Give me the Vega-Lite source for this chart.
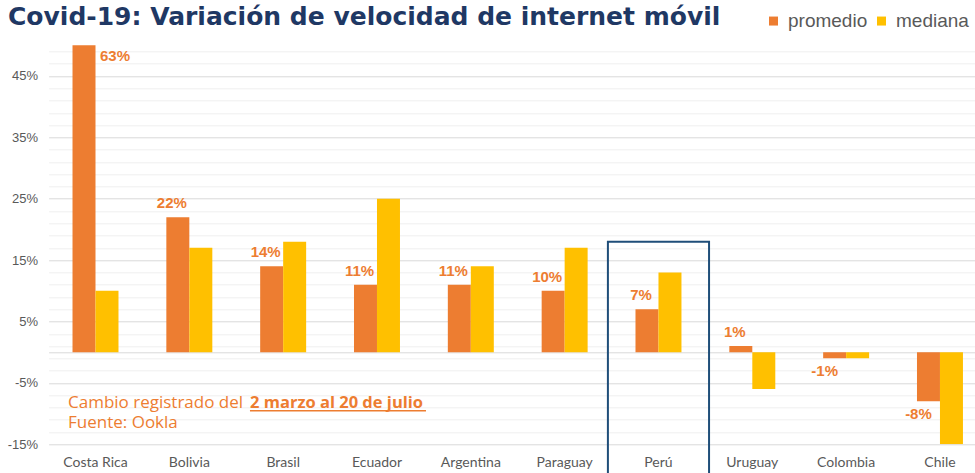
{
  "$schema": "https://vega.github.io/schema/vega-lite/v6.json",
  "width": 926.4,
  "height": 399,
  "autosize": {"type": "none"},
  "padding": {"left": 48.6, "top": 45.3, "right": 0, "bottom": 28.7},
  "background": "white",
  "config": {
    "view": {"stroke": null},
    "font": "Liberation Sans",
    "locale": {"number": {"decimal": ".", "thousands": ",", "grouping": [3], "currency": ["$", ""], "minus": "-", "percent": "%"}}
  },
  "resolve": {"axis": {"y": "independent"}},
  "data": {
    "values": [
      {"pais": "Costa Rica", "serie": "promedio", "valor": 0.63},
      {"pais": "Costa Rica", "serie": "mediana", "valor": 0.10},
      {"pais": "Bolivia", "serie": "promedio", "valor": 0.22},
      {"pais": "Bolivia", "serie": "mediana", "valor": 0.17},
      {"pais": "Brasil", "serie": "promedio", "valor": 0.14},
      {"pais": "Brasil", "serie": "mediana", "valor": 0.18},
      {"pais": "Ecuador", "serie": "promedio", "valor": 0.11},
      {"pais": "Ecuador", "serie": "mediana", "valor": 0.25},
      {"pais": "Argentina", "serie": "promedio", "valor": 0.11},
      {"pais": "Argentina", "serie": "mediana", "valor": 0.14},
      {"pais": "Paraguay", "serie": "promedio", "valor": 0.10},
      {"pais": "Paraguay", "serie": "mediana", "valor": 0.17},
      {"pais": "Perú", "serie": "promedio", "valor": 0.07},
      {"pais": "Perú", "serie": "mediana", "valor": 0.13},
      {"pais": "Uruguay", "serie": "promedio", "valor": 0.01},
      {"pais": "Uruguay", "serie": "mediana", "valor": -0.06},
      {"pais": "Colombia", "serie": "promedio", "valor": -0.01},
      {"pais": "Colombia", "serie": "mediana", "valor": -0.01},
      {"pais": "Chile", "serie": "promedio", "valor": -0.08},
      {"pais": "Chile", "serie": "mediana", "valor": -0.15}
    ]
  },
  "layer": [
    {
      "mark": {"type": "bar", "clip": true},
      "encoding": {
        "x": {
          "field": "pais",
          "type": "nominal",
          "scale": {
            "domain": ["Costa Rica", "Bolivia", "Brasil", "Ecuador", "Argentina", "Paraguay", "Perú", "Uruguay", "Colombia", "Chile"],
            "paddingInner": 0.51,
            "paddingOuter": 0.1916,
            "align": 0.665
          },
          "axis": {
            "title": null,
            "domain": false,
            "ticks": false,
            "labelAngle": 0,
            "labelFont": "Lato",
            "labelFontSize": 14,
            "labelColor": "#595959",
            "labelPadding": 11
          }
        },
        "xOffset": {"field": "serie", "type": "nominal", "scale": {"domain": ["promedio", "mediana"], "paddingInner": 0, "paddingOuter": 0}},
        "y": {
          "field": "valor",
          "type": "quantitative",
          "stack": null,
          "scale": {"domain": [-0.15, 0.5], "nice": false},
          "axis": {
            "title": null,
            "domain": false,
            "ticks": false,
            "labelOverlap": false,
            "labelFlush": false,
            "labelPadding": 11,
            "labelFontSize": 13,
            "labelColor": "#595959",
            "values": [-0.15, -0.05, 0, 0.05, 0.15, 0.25, 0.35, 0.45],
            "labelExpr": "datum.value === 0 ? '' : format(datum.value, '.0%')",
            "gridColor": "#d9d9d9",
            "gridWidth": 1
          }
        },
        "y2": {"datum": 0},
        "color": {
          "field": "serie",
          "type": "nominal",
          "scale": {"domain": ["promedio", "mediana"], "range": ["#ED7D31", "#FFC000"]},
          "legend": {
            "title": null,
            "orient": "none",
            "legendX": 715.4,
            "legendY": -34,
            "direction": "horizontal",
            "symbolType": "square",
            "symbolSize": 81,
            "symbolStrokeWidth": 0,
            "labelFontSize": 19,
            "labelColor": "#595959",
            "labelOffset": 5,
            "columnPadding": 4
          }
        }
      }
    },
    {
      "transform": [{"filter": "datum.serie === 'promedio' && datum.valor >= 0 && datum.valor <= 0.5"}],
      "mark": {"type": "text", "align": "center", "baseline": "alphabetic", "dx": -6, "dy": -9, "fontSize": 15, "fontWeight": "bold", "color": "#ED7D31"},
      "encoding": {
        "x": {"field": "pais", "type": "nominal"},
        "xOffset": {"field": "serie", "type": "nominal"},
        "y": {
          "field": "valor",
          "type": "quantitative",
          "axis": {
            "orient": "right",
            "title": null,
            "domain": false,
            "ticks": false,
            "labels": false,
            "grid": true,
            "gridColor": "#efefef",
            "gridWidth": 1,
            "values": [-0.13, -0.11, -0.09, -0.07, -0.03, -0.01, 0.01, 0.03, 0.07, 0.09, 0.11, 0.13, 0.17, 0.19, 0.21, 0.23, 0.27, 0.29, 0.31, 0.33, 0.37, 0.39, 0.41, 0.43, 0.47, 0.49]
          }
        },
        "text": {"field": "valor", "type": "quantitative", "format": ".0%"}
      }
    },
    {
      "transform": [{"filter": "datum.serie === 'promedio' && datum.valor < 0"}],
      "mark": {"type": "text", "align": "center", "baseline": "top", "dx": -10, "dy": 6, "fontSize": 15, "fontWeight": "bold", "color": "#ED7D31"},
      "encoding": {
        "x": {"field": "pais", "type": "nominal"},
        "xOffset": {"field": "serie", "type": "nominal"},
        "y": {"field": "valor", "type": "quantitative", "axis": null},
        "text": {"field": "valor", "type": "quantitative", "format": ".0%"}
      }
    },
    {
      "transform": [{"filter": "datum.serie === 'promedio' && datum.valor > 0.5"}],
      "mark": {"type": "text", "align": "left", "baseline": "top", "dx": 16, "dy": 4, "fontSize": 15, "fontWeight": "bold", "color": "#ED7D31"},
      "encoding": {
        "x": {"field": "pais", "type": "nominal"},
        "xOffset": {"field": "serie", "type": "nominal"},
        "y": {"datum": 0.5, "axis": null},
        "text": {"field": "valor", "type": "quantitative", "format": ".0%"}
      }
    },
    {
      "data": {"values": [{}]},
      "mark": {"type": "bar", "fill": "transparent", "stroke": "#1F4E79", "strokeWidth": 2, "width": {"band": 2.2}, "clip": false},
      "encoding": {
        "x": {"datum": "Perú", "type": "nominal"},
        "y": {"datum": 0.18, "axis": null},
        "y2": {"datum": -0.25}
      }
    },
    {
      "data": {"values": [{}]},
      "mark": {"type": "text", "align": "left", "baseline": "alphabetic", "dx": -87.5, "dy": -20, "font": "DejaVu Sans", "fontSize": 25, "fontWeight": "bold", "color": "#1F3864", "text": "Covid-19: Variación de velocidad de internet móvil"},
      "encoding": {
        "x": {"datum": "Costa Rica", "type": "nominal"},
        "y": {"datum": 0.5, "axis": null}
      }
    },
    {
      "data": {"values": [{}]},
      "mark": {"type": "text", "align": "left", "baseline": "alphabetic", "dx": -27.5, "font": "Open Sans", "fontSize": 17, "fontWeight": "normal", "color": "#ED7D31", "text": "Cambio registrado del"},
      "encoding": {
        "x": {"datum": "Costa Rica", "type": "nominal"},
        "y": {"datum": -0.091, "axis": null}
      }
    },
    {
      "data": {"values": [{}]},
      "mark": {"type": "text", "align": "left", "baseline": "alphabetic", "dx": 154.5, "font": "Open Sans", "fontSize": 16.5, "fontWeight": "bold", "color": "#ED7D31", "text": "2 marzo al 20 de julio"},
      "encoding": {
        "x": {"datum": "Costa Rica", "type": "nominal"},
        "y": {"datum": -0.091, "axis": null}
      }
    },
    {
      "data": {"values": [{}]},
      "mark": {"type": "rule", "color": "#ED7D31", "strokeWidth": 1.5, "xOffset": -33.2, "x2Offset": 49},
      "encoding": {
        "x": {"datum": "Brasil", "type": "nominal"},
        "x2": {"datum": "Ecuador"},
        "y": {"datum": -0.0955, "axis": null}
      }
    },
    {
      "data": {"values": [{}]},
      "mark": {"type": "text", "align": "left", "baseline": "alphabetic", "dx": -27.5, "font": "Open Sans", "fontSize": 17, "fontWeight": "normal", "color": "#ED7D31", "text": "Fuente: Ookla"},
      "encoding": {
        "x": {"datum": "Costa Rica", "type": "nominal"},
        "y": {"datum": -0.124, "axis": null}
      }
    }
  ]
}
